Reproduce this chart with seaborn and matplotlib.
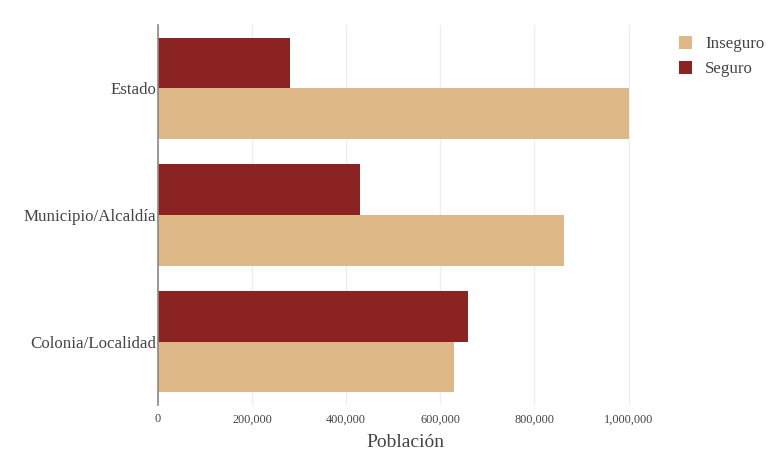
import matplotlib
matplotlib.use("Agg")
import matplotlib.pyplot as plt
import seaborn as sns
import pandas as pd
from matplotlib.patches import Patch

categorias = ["Estado", "Municipio/Alcaldía", "Colonia/Localidad"]
seguro = [280000, 429000, 658000]
inseguro = [1000000, 862000, 630000]
tick_vals = [0, 200000, 400000, 600000, 800000, 1000000]
tick_labels = ["0", "200,000", "400,000", "600,000", "800,000", "1,000,000"]

df = pd.DataFrame({
    "Lugar": categorias * 2,
    "Población": seguro + inseguro,
    "Percepción": ["Seguro"] * 3 + ["Inseguro"] * 3,
})

sns.set_theme(style="white")
plt.rcParams["font.family"] = ["Liberation Serif", "DejaVu Serif"]

colors = {"Seguro": "#8B2323", "Inseguro": "#DEB887"}

fig = plt.figure(figsize=(7.75, 4.5), dpi=100)
ax = fig.add_axes([158/775, 1-405/450, (653-158)/775, (405-25)/450])

sns.barplot(data=df, y="Lugar", x="Población", hue="Percepción",
            order=categorias, hue_order=["Seguro", "Inseguro"],
            palette=colors, orient="h", width=0.8, ax=ax, saturation=1,
            edgecolor="none", linewidth=0, legend=False, zorder=2)

ax.set_xlim(0, 1052000)
ax.set_xticks(tick_vals)
ax.set_xticklabels(tick_labels, fontsize=8.8, color="#444444")
ax.tick_params(axis="x", length=0, pad=6)
ax.tick_params(axis="y", length=0, pad=1, labelsize=12.2, labelcolor="#444444")
ax.grid(axis="x", color="#eeeeee", linewidth=1, zorder=0)
ax.set_axisbelow(True)
for s in ["top", "right", "bottom"]:
    ax.spines[s].set_visible(False)
ax.spines["left"].set_color("#888888")
ax.spines["left"].set_linewidth(1.2)
ax.set_ylabel("")
ax.set_xlabel("Población", fontsize=14, color="#444444", labelpad=6)

handles = [Patch(facecolor=colors["Inseguro"], edgecolor="none", label="Inseguro"),
           Patch(facecolor=colors["Seguro"], edgecolor="none", label="Seguro")]
leg = fig.legend(handles=handles, loc="upper left", bbox_to_anchor=(672/775, 1-29/450),
                 frameon=False, fontsize=12.2, handlelength=0.8, handleheight=0.8,
                 handletextpad=0.75, labelspacing=0.5, borderaxespad=0)
for t in leg.get_texts():
    t.set_color("#444444")

fig.savefig("out.png", dpi=100)
